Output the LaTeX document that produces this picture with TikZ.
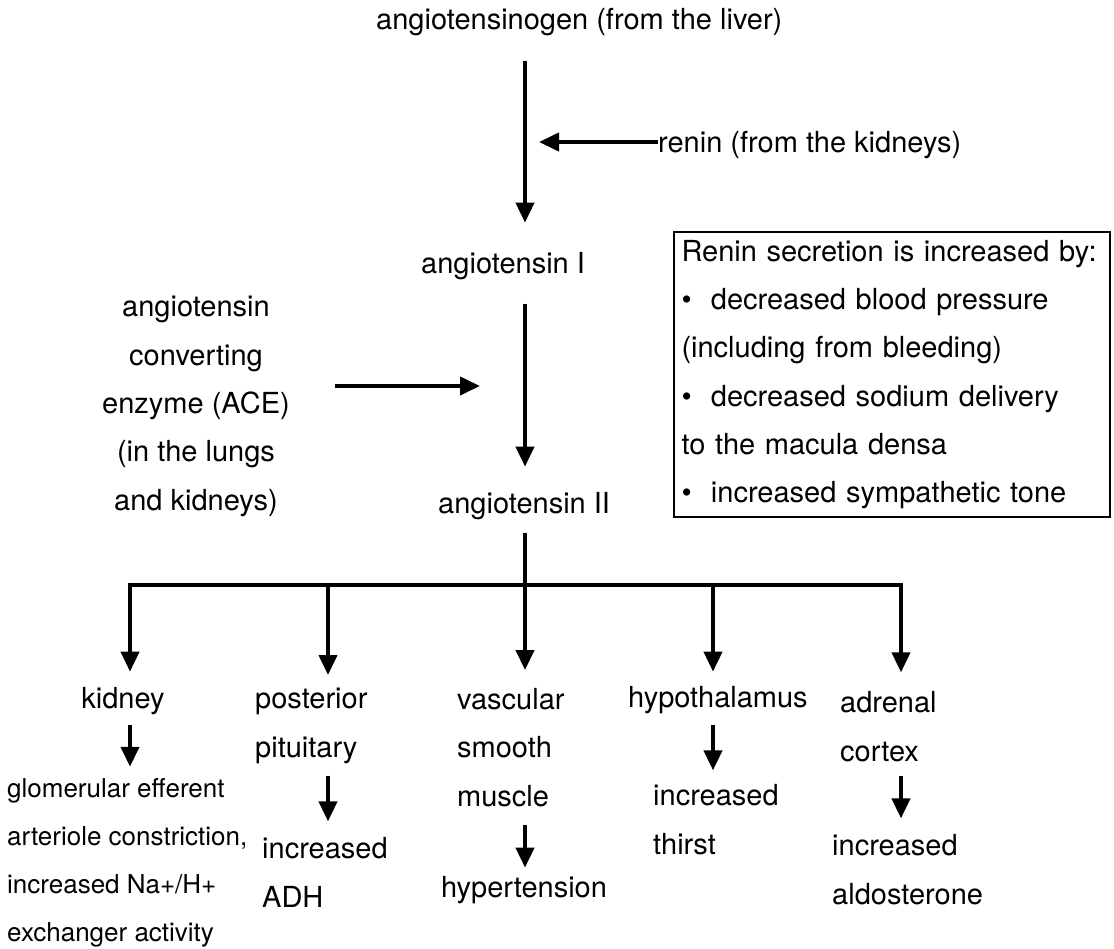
\documentclass[tikz,border=0pt]{standalone}
\usepackage{fontspec}
\setmainfont{TeX Gyre Heros}
\usetikzlibrary{arrows.meta}

\begin{document}
\begin{tikzpicture}[x=1pt, y=-1pt,
    font=\fontsize{29pt}{48.3pt}\selectfont,
    txt/.style={inner sep=0pt, anchor=base west, align=left},
    arr/.style={line width=4pt, -{Triangle[width=18pt,length=20pt]}},
    small/.style={font=\fontsize{26pt}{48pt}\selectfont}]
    \useasboundingbox (0,0) rectangle (1114,948);

    % main chain (multi-line nodes sit on their last baseline)
    \node[txt] (agen) at (376,29) {angiotensinogen (from the liver)};
    \node[txt] (renin) at (658,152) {renin (from the kidneys)};
    \node[txt] (ang1) at (421,273) {angiotensin I};
    \node[txt] (ang2) at (438,513) {angiotensin II};
    \node[txt, anchor=base, align=center] (ace) at (196,510)
        {angiotensin\\converting\\enzyme (ACE)\\(in the lungs\\and kidneys)};
    \node[draw, line width=2pt, anchor=north west, inner xsep=7.5pt, inner ysep=8pt,
        text width=421pt, align=left] (renbox) at (673,231)
        {Renin secretion is increased by:\\
         \textbullet\ \ decreased blood pressure\\
         (including from bleeding)\\
         \textbullet\ \ decreased sodium delivery\\
         to the macula densa\\
         \textbullet\ \ increased sympathetic tone};

    \coordinate (m) at (525,0);
    \coordinate (rtip) at (525,142);
    \coordinate (etip) at (525,386);
    \draw[arr, shorten <=25pt, shorten >=29pt] (agen.south -| m) -- (ang1.north -| m);
    \draw[arr, shorten <=24pt, shorten >=25pt] (ang1.south -| m) -- (ang2.north -| m);
    \draw[arr, shorten >=14pt] (renin.west |- rtip) -- (rtip);
    \draw[arr, shorten <=45pt, shorten >=45pt] (ace.east |- etip) -- (etip);

    % targets
    \node[txt, anchor=base] (kid) at (123,708) {kidney};
    \node[txt, small] (kidres) at (7,941)
        {glomerular efferent\\arteriole constriction,\\increased Na+/H+\\exchanger activity};
    \node[txt] (post) at (255,757) {posterior\\pituitary};
    \node[txt] (adh) at (262,907) {increased\\ADH};
    \node[txt] (vsm) at (457,806) {vascular\\smooth\\muscle};
    \node[txt, anchor=base] (htn) at (524,897) {hypertension};
    \node[txt] (hyp) at (628,707) {hypothalamus};
    \node[txt] (thirst) at (653,854) {increased\\thirst};
    \node[txt] (adr) at (840,761) {adrenal\\cortex};
    \node[txt] (aldo) at (832,904) {increased\\aldosterone};

    \coordinate (b1) at (130,585);
    \coordinate (b2) at (328,585);
    \coordinate (b3) at (525,585);
    \coordinate (b4) at (713,585);
    \coordinate (b5) at (901,585);
    \draw[line width=4pt, shorten <=13pt] (ang2.south -| b3) -- (b3);
    \draw[line width=4pt, line cap=rect] (b1) -- (b5);
    \foreach \b/\n/\s in {b1/kid/15, b2/post/13, b3/vsm/18, b4/hyp/14, b5/adr/19}
        \draw[arr, shorten >=\s pt] (\b) -- (\b |- \n.north);

    \draw[arr, shorten <=10pt, shorten >=11pt] (kid.south -| b1) -- (kidres.north -| b1);
    \draw[arr, shorten <=12pt, shorten >=16pt] (post.south -| b2) -- (adh.north -| b2);
    \draw[arr, shorten <=18pt, shorten >=8pt] (vsm.south -| b3) -- (htn.north -| b3);
    \draw[arr, shorten <=11pt, shorten >=14pt] (hyp.south -| b4) -- (thirst.north -| b4);
    \draw[arr, shorten <=14pt, shorten >=16pt] (adr.south -| b5) -- (aldo.north -| b5);
\end{tikzpicture}
\end{document}
